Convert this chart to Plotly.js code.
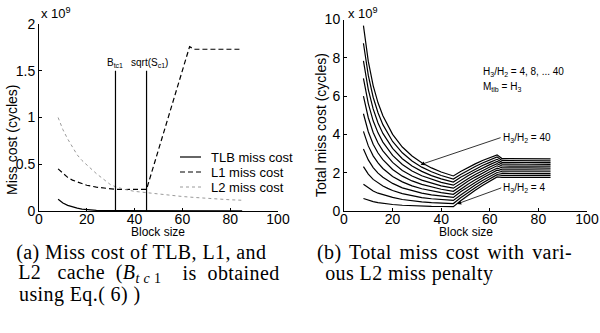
<!DOCTYPE html>
<html><head><meta charset="utf-8">
<script src="https://cdn.plot.ly/plotly-3.0.1.min.js"></script>
<style>html,body{margin:0;padding:0;background:#fff}#chart{width:600px;height:333px}</style>
</head><body><div id="chart"></div>
<script>
// ---- Panel (a): miss cost of TLB, L1 and L2 (units of 1e9 cycles) ----
const tlbX = [8,10,12,14,16,18,20,24,30,40,50,60,70,85];
const tlbY = [0.125,0.085,0.06,0.042,0.03,0.02,0.013,0.007,0.004,0.002,0.001,0.001,0.0005,0.0003];
const l1X = [8,10,12,14,16,18,20,24,28,32,36,40,45,63,65,85];
const l1Y = [0.45,0.40,0.36,0.33,0.31,0.29,0.275,0.255,0.24,0.232,0.23,0.23,0.232,1.757,1.73,1.73];
const l2X = [8,10,12,14,16,18,20,22,24,26,28,30,32,36,40,45,50,55,60,65,70,75,80,85];
const l2Y = [1.0,0.87,0.77,0.68,0.60,0.54,0.49,0.44,0.40,0.36,0.32,0.28,0.26,0.23,0.21,0.195,0.18,0.165,0.155,0.145,0.135,0.128,0.12,0.115];
const seriesNames = ['TLB miss cost', 'L1 miss cost', 'L2 miss cost'];
const markX = [32, 45];          // B_tc1 and sqrt(S_c1)
const markTop = 1.5;
const markLabels = ['B<sub>tc1</sub>', 'sqrt(S<sub>c1</sub>)'];
const xTicks = [0,20,40,60,80,100];
const yTicksA = [0,0.5,1,1.5,2];
const yTicksB = [0,2,4,6,8,10];

// ---- Panel (b): total miss cost, one curve per H3/H2 (units of 1e9 cycles) ----
const totX = [8,10,12,14,16,18,20,24,28,32,36,40,45,48,51,54,57,60,63,65,75,85];
const tc0  = [0.65,0.56,0.49,0.44,0.40,0.37,0.34,0.30,0.27,0.25,0.24,0.235,0.23,0.54,0.82,1.08,1.33,1.56,1.78,1.76,1.76,1.76];
const tc1  = [1.40,1.20,1.04,0.93,0.85,0.78,0.71,0.60,0.53,0.48,0.44,0.415,0.39,0.69,0.97,1.22,1.46,1.68,1.90,1.86,1.86,1.86];
const tc2  = [2.32,1.93,1.65,1.46,1.31,1.18,1.07,0.91,0.79,0.70,0.64,0.595,0.55,0.84,1.11,1.36,1.59,1.81,2.01,1.96,1.95,1.95];
const tc3  = [3.24,2.67,2.27,1.98,1.76,1.59,1.44,1.21,1.05,0.93,0.84,0.775,0.71,1.00,1.26,1.49,1.72,1.93,2.13,2.05,2.05,2.05];
const tc4  = [4.16,3.40,2.88,2.51,2.22,2.00,1.80,1.52,1.31,1.16,1.04,0.955,0.87,1.15,1.40,1.63,1.85,2.05,2.24,2.15,2.15,2.14];
const tc5  = [5.08,4.14,3.49,3.03,2.68,2.41,2.17,1.82,1.57,1.39,1.25,1.135,1.03,1.30,1.55,1.77,1.99,2.18,2.36,2.25,2.25,2.24];
const tc6  = [6.00,4.87,4.10,3.55,3.14,2.81,2.54,2.12,1.83,1.61,1.45,1.315,1.19,1.45,1.69,1.91,2.12,2.30,2.47,2.35,2.34,2.34];
const tc7  = [6.92,5.61,4.71,4.08,3.60,3.22,2.90,2.43,2.09,1.84,1.65,1.495,1.35,1.60,1.84,2.05,2.25,2.42,2.59,2.45,2.44,2.43];
const tc8  = [7.84,6.34,5.33,4.60,4.05,3.63,3.27,2.73,2.35,2.07,1.85,1.675,1.51,1.76,1.98,2.18,2.38,2.54,2.70,2.54,2.54,2.53];
const tc9  = [8.76,7.08,5.94,5.13,4.51,4.03,3.63,3.04,2.61,2.29,2.05,1.855,1.67,1.91,2.13,2.32,2.51,2.67,2.82,2.64,2.63,2.62];
const tc10 = [9.68,7.81,6.55,5.65,4.97,4.44,4.00,3.34,2.87,2.52,2.25,2.035,1.83,2.06,2.27,2.46,2.64,2.79,2.93,2.74,2.73,2.72];
const totalCurves = [tc0,tc1,tc2,tc3,tc4,tc5,tc6,tc7,tc8,tc9,tc10];

const W = 600, H = 333;
const px = p => p / W;
const py = p => (H - p) / H;
const SANS = 'Liberation Sans, Arial, Helvetica, sans-serif';
const SERIF = 'Liberation Serif, Times New Roman, serif';

const styles = [
  {color: '#000', width: 1.2},
  {color: '#000', width: 1.2, dash: '5px,3px'},
  {color: '#9a9a9a', width: 1, dash: 'dot'}
];
const traces = [];
[[tlbX, tlbY], [l1X, l1Y], [l2X, l2Y]].forEach((s, i) =>
  traces.push({x: s[0], y: s[1], mode: 'lines', name: seriesNames[i], showlegend: false, line: styles[i], xaxis: 'x', yaxis: 'y'}));
markX.forEach(m => traces.push({x: [m, m], y: [0, markTop], mode: 'lines', showlegend: false, line: {color: '#000', width: 1.2}, xaxis: 'x', yaxis: 'y', hoverinfo: 'skip'}));
totalCurves.forEach(c => traces.push({x: totX, y: c, mode: 'lines', showlegend: false, line: {color: '#000', width: 1.2}, xaxis: 'x2', yaxis: 'y2'}));

const axBase = {
  showline: true, linecolor: '#000', linewidth: 1, mirror: false,
  ticks: 'inside', ticklen: 3, tickcolor: '#000', showgrid: false, zeroline: false,
  tickfont: {family: SANS, size: 14, color: '#000'}, fixedrange: true
};
const ann = [];
const shapes = [];
const css = [];
const txt = (x, y, text, opts) => { ann.push(Object.assign({xref: 'paper', yref: 'paper', x: x, y: y, text: text, showarrow: false, font: {family: SANS, size: 10, color: '#000'}}, opts || {})); return ann.length - 1; };

// manual legend (panel a)
seriesNames.forEach((n, i) => {
  const yy = 157 + 15 * i;
  shapes.push({type: 'line', xref: 'paper', yref: 'paper', x0: px(180), x1: px(201), y0: py(yy), y1: py(yy), line: styles[i]});
  txt(px(209), py(yy), n, {xanchor: 'left', yanchor: 'middle', font: {family: SANS, size: 13, color: '#000'}});
});

// panel (a) labels
markX.forEach((m, i) => ann.push({xref: 'x', yref: 'paper', x: m + (i ? 1.2 : 0), y: py(63), text: markLabels[i], showarrow: false, xanchor: 'center', yanchor: 'middle', font: {family: SANS, size: 10, color: '#000'}}));
txt(px(39), py(13), 'x 10<sup>9</sup>', {xanchor: 'left', yanchor: 'middle', font: {family: SANS, size: 13, color: '#000'}});
txt(px(346), py(13), 'x 10<sup>9</sup>', {xanchor: 'left', yanchor: 'middle', font: {family: SANS, size: 13, color: '#000'}});
txt(px(12), py(140), 'Miss cost (cycles)', {textangle: -90, xanchor: 'center', yanchor: 'middle', font: {family: SANS, size: 14, color: '#000'}});
txt(px(321), py(125), 'Total miss cost (cycles)', {textangle: -90, xanchor: 'center', yanchor: 'middle', font: {family: SANS, size: 14, color: '#000'}});
txt(px(158), py(232), 'Block size', {xanchor: 'center', yanchor: 'middle', font: {family: SANS, size: 12, color: '#000'}});
txt(px(466), py(232), 'Block size', {xanchor: 'center', yanchor: 'middle', font: {family: SANS, size: 12, color: '#000'}});

// panel (b) labels
txt(px(481), py(72), 'H<sub>3</sub>/H<sub>2</sub> = 4, 8, ... 40', {xanchor: 'left', yanchor: 'middle'});
txt(px(481), py(87), 'M<sub>tlb</sub> = H<sub>3</sub>', {xanchor: 'left', yanchor: 'middle'});
ann.push({xref: 'x2', yref: 'y2', x: 31.5, y: 2.42, ax: 80, ay: -27, showarrow: true, arrowhead: 2, arrowsize: 1, arrowwidth: 0.8, arrowcolor: '#000', standoff: 0,
  xanchor: 'left', yanchor: 'middle', text: 'H<sub>3</sub>/H<sub>2</sub> = 40', font: {family: SANS, size: 10, color: '#000'}});
ann.push({xref: 'x2', yref: 'y2', x: 46.6, y: 0.37, ax: 44, ay: -16, showarrow: true, arrowhead: 2, arrowsize: 1, arrowwidth: 0.8, arrowcolor: '#000', standoff: 0,
  xanchor: 'left', yanchor: 'middle', text: 'H<sub>3</sub>/H<sub>2</sub> = 4', font: {family: SANS, size: 10, color: '#000'}});

// captions
const capFont = {family: SERIF, size: 20, color: '#000'};
const sp = '\u00A0';
const capA1 = txt(px(20), py(252), '(a) Miss cost of TLB, L1, and', {xanchor: 'left', yanchor: 'middle', font: capFont});
const capA2a = txt(px(20), py(273), 'L2' + sp + sp + sp + 'cache' + sp + sp + '(<i>B</i><sub><i>t</i> <i>c</i> 1</sub>', {xanchor: 'left', yanchor: 'middle', font: capFont});
const capA2b = txt(px(279), py(273), 'is' + sp + sp + 'obtained', {xanchor: 'right', yanchor: 'middle', font: capFont});
const capA3 = txt(px(20), py(294), 'using Eq.( 6) )', {xanchor: 'left', yanchor: 'middle', font: capFont});
const capB1 = txt(px(327), py(252), '(b) Total miss cost with vari-', {xanchor: 'left', yanchor: 'middle', font: capFont});
const capB2 = txt(px(327), py(273), 'ous L2 miss penalty', {xanchor: 'left', yanchor: 'middle', font: capFont});
[capA1, capA2a, capA2b, capA3, capB1, capB2].forEach(k => css.push('.annotation[data-index="' + k + '"] text{letter-spacing:0.4px}'));
css.push('.annotation[data-index="' + capB1 + '"] text{word-spacing:2.4px}');
const st = document.createElement('style');
st.textContent = css.join('\n');
document.head.appendChild(st);

const layout = {
  width: W, height: H, margin: {l: 0, r: 0, t: 0, b: 0},
  font: {family: SANS, color: '#000'},
  paper_bgcolor: '#fff', plot_bgcolor: 'rgba(0,0,0,0)',
  xaxis: Object.assign({}, axBase, {domain: [px(39), px(278)], range: [0, 100], tickvals: xTicks, anchor: 'y', ticklabelstandoff: -5}),
  yaxis: Object.assign({}, axBase, {domain: [py(211), py(24)], range: [0, 2], tickvals: yTicksA, ticktext: yTicksA.map(String), anchor: 'x'}),
  xaxis2: Object.assign({}, axBase, {domain: [px(344), px(587)], range: [0, 100], tickvals: xTicks, anchor: 'y2', ticklabelstandoff: -5}),
  yaxis2: Object.assign({}, axBase, {domain: [py(211), py(19.5)], range: [0, 10], tickvals: yTicksB, anchor: 'x2'}),
  showlegend: false,
  shapes: shapes,
  annotations: ann
};
Plotly.newPlot('chart', traces, layout, {staticPlot: true, displayModeBar: false});
</script></body></html>
